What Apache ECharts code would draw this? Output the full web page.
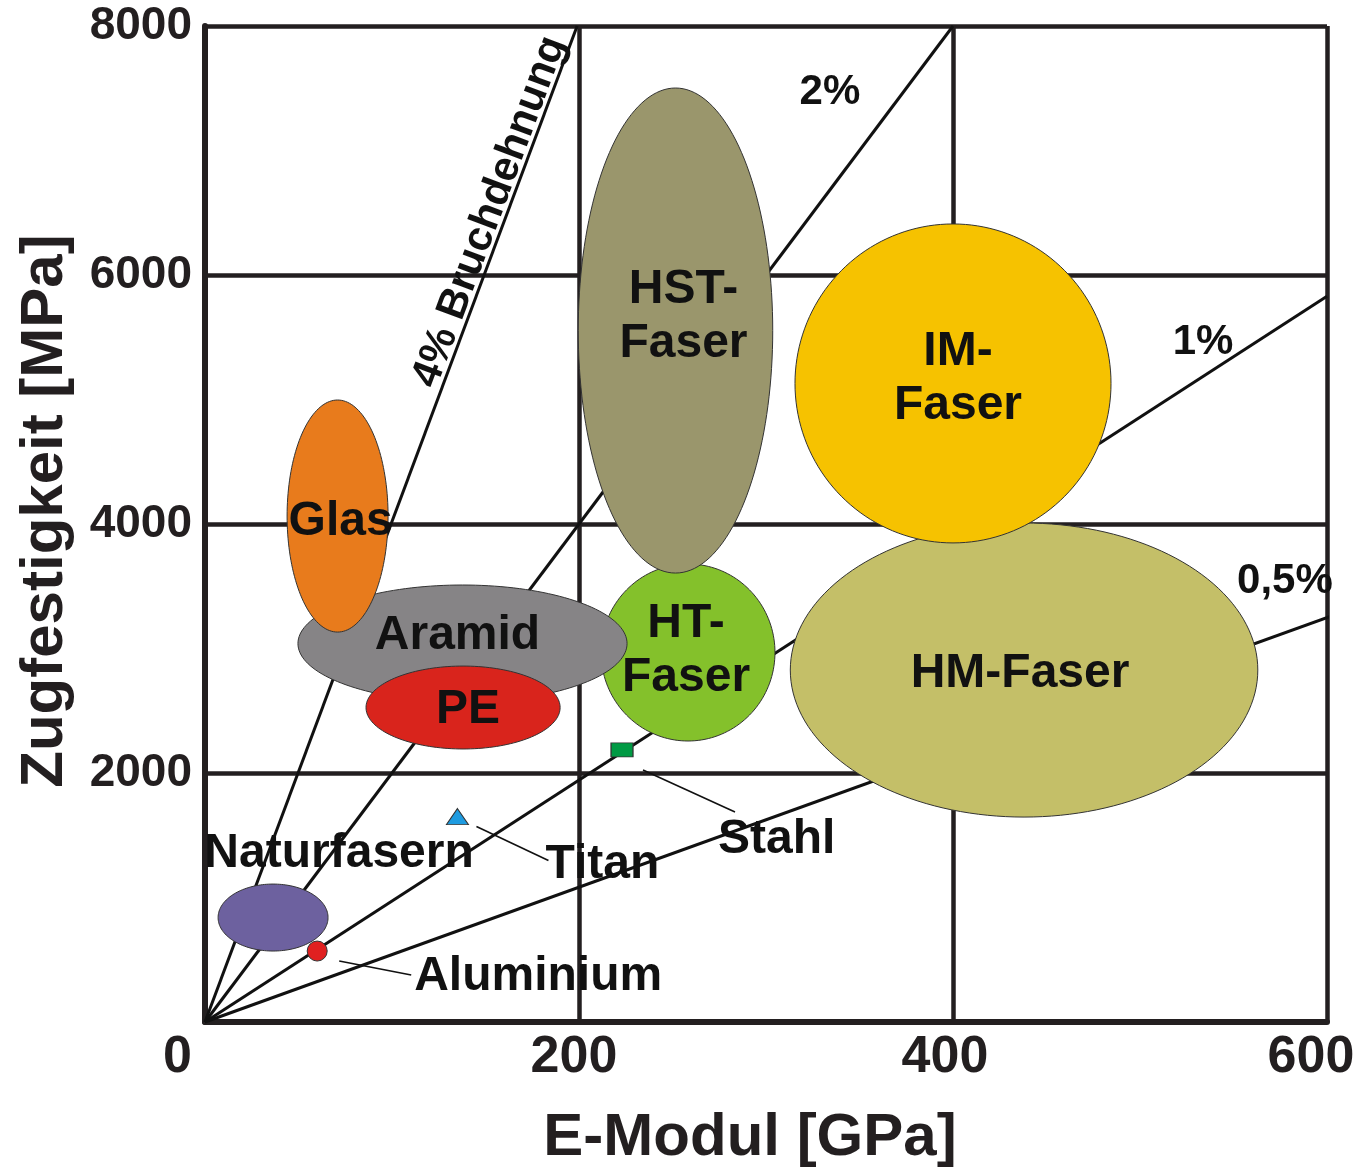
<!DOCTYPE html>
<html><head><meta charset="utf-8">
<script src="https://cdn.jsdelivr.net/npm/echarts@6/dist/echarts.min.js"></script>
<style>html,body{margin:0;padding:0;background:#fff}#c{width:1356px;height:1174px}</style>
</head><body><div id="c"></div>
<script>
// ---------------- data ----------------
const xTicks = [0, 200, 400, 600];            // E-Modul [GPa]
const yTicks = [0, 2000, 4000, 6000, 8000];   // Zugfestigkeit [MPa]

// material fields drawn as ellipses (centre and half range), in drawing order
const materialNames   = ['Naturfasern', 'HT-Faser', 'HM-Faser', 'HST-Faser', 'IM-Faser', 'Aramid', 'Glas', 'PE'];
const materialLabels  = ['Naturfasern', 'HT-\nFaser', 'HM-Faser', 'HST-\nFaser', 'IM-\nFaser', 'Aramid', 'Glas', 'PE'];
const modulusCenter   = [36.4, 258.3, 438, 251.6, 400, 137.7, 70.9, 138];
const strengthCenter  = [839, 2968, 2827, 5554, 5129, 3040, 4064, 2526];
const modulusHalf     = [29.4, 46.5, 125, 52, 84.5, 88, 27, 51.9];
const strengthHalf    = [269, 711, 1181, 1948, 1281, 470, 932, 333];

// single materials drawn as points
const pointNames    = ['Aluminium', 'Titan', 'Stahl'];
const pointModulus  = [60, 135, 223];
const pointStrength = [570, 1650, 2185];

// lines of constant elongation at break, from the origin to their end point
const strainNames       = ['4%', '2%', '1%', '0,5%'];
const strainEndModulus  = [199, 400, 600, 603];
const strainEndStrength = [8000, 8000, 5830, 3265];

// ---------------- styles ----------------
const FONT = '"Liberation Sans", Arial, Helvetica, sans-serif';
const INK = '#111111';
const FRAME = '#231F20';

const ellipseStyle = {
  'Naturfasern': { color: '#6d619f', dx: 66, dy: -64 },
  'HT-Faser':    { color: '#84c12b', dx: -2, dy: -2 },
  'HM-Faser':    { color: '#c4bf68', dx: -4, dy: 4 },
  'HST-Faser':   { color: '#9a966c', dx: 8,  dy: -14 },
  'IM-Faser':    { color: '#f6c200', dx: 5,  dy: -5 },
  'Aramid':      { color: '#868486', dx: -5, dy: -8 },
  'Glas':        { color: '#e87b1c', dx: 3,  dy: 6 },
  'PE':          { color: '#d9241c', dx: 5,  dy: 2 }
};
const pointStyle = {
  'Aluminium': { symbol: 'circle',   size: 20,       color: '#e02020', lead: [22, 10, 94, 24],  text: [97, 26] },
  'Titan':     { symbol: 'triangle', size: [22, 16], color: '#1e9be0', lead: [19, 10, 91, 44],  text: [88, 48] },
  'Stahl':     { symbol: 'rect',     size: [22, 14], color: '#009a44', lead: [21, 20, 113, 62], text: [96, 90] }
};
const strainLabel = {
  '4%':   { text: '4% Bruchdehnung', coord: [152.4, 6506], rotate: 69.5 },
  '2%':   { text: '2%',   coord: [334.2, 7470], rotate: 0 },
  '1%':   { text: '1%',   coord: [533.7, 5460], rotate: 0 },
  '0,5%': { text: '0,5%', coord: [577.5, 3540], rotate: 0 }
};
// horizontal nudge of the x tick labels (right padding in px, shifts text left by half)
const xLabelPad = { 0: 55, 200: 10, 400: 16, 600: 32 };

// ---------------- build series ----------------
const series = [];

strainNames.forEach((n, i) => {
  const lab = strainLabel[n];
  series.push({
    type: 'line', name: n, z: 2, silent: true, clip: false,
    symbol: 'none', animation: false,
    lineStyle: { color: INK, width: 3 },
    data: [[0, 0], [strainEndModulus[i], strainEndStrength[i]]],
    markPoint: {
      silent: true, animation: false,
      symbol: 'circle', symbolSize: 1, itemStyle: { color: 'rgba(0,0,0,0)' },
      data: [{
        coord: lab.coord,
        label: {
          show: true, position: 'inside', formatter: lab.text, rotate: lab.rotate,
          color: INK, fontSize: 42, fontWeight: 'bold', fontFamily: FONT
        }
      }]
    }
  });
});

series.push({
  type: 'custom', name: 'Werkstoffe', z: 3, silent: true, animation: false,
  data: materialNames.map((n, i) => ({
    name: n, value: [modulusCenter[i], strengthCenter[i], modulusHalf[i], strengthHalf[i]]
  })),
  renderItem: (params, api) => {
    const i = params.dataIndex;
    const name = materialNames[i];
    const st = ellipseStyle[name];
    const c = api.coord([api.value(0), api.value(1)]);
    const s = api.size([api.value(2), api.value(3)]);
    const pts = [];
    const N = 160;
    for (let k = 0; k < N; k++) {
      const t = k / N * Math.PI * 2;
      pts.push([c[0] + s[0] * Math.cos(t), c[1] + s[1] * Math.sin(t)]);
    }
    return {
      type: 'group',
      children: [
        { type: 'polygon', z2: i, shape: { points: pts },
          style: { fill: st.color, stroke: '#333333', lineWidth: 1 } },
        { type: 'text', z2: 100, x: c[0] + st.dx, y: c[1] + st.dy,
          style: { text: materialLabels[i], fill: INK, fontSize: 48, fontWeight: 'bold',
                   fontFamily: FONT, align: 'center', verticalAlign: 'middle', lineHeight: 54 } }
      ]
    };
  }
});

series.push({
  type: 'scatter', name: 'Metalle', z: 4, silent: true, animation: false,
  data: pointNames.map((n, i) => ({
    name: n, value: [pointModulus[i], pointStrength[i]],
    symbol: pointStyle[n].symbol, symbolSize: pointStyle[n].size,
    itemStyle: { color: pointStyle[n].color, borderColor: '#333333', borderWidth: 1, opacity: 1 }
  }))
});

series.push({
  type: 'custom', name: 'Beschriftung', z: 5, silent: true, animation: false,
  data: pointNames.map((n, i) => ({ name: n, value: [pointModulus[i], pointStrength[i]] })),
  renderItem: (params, api) => {
    const n = pointNames[params.dataIndex];
    const st = pointStyle[n];
    const c = api.coord([api.value(0), api.value(1)]);
    return {
      type: 'group',
      children: [
        { type: 'line', shape: { x1: c[0] + st.lead[0], y1: c[1] + st.lead[1], x2: c[0] + st.lead[2], y2: c[1] + st.lead[3] },
          style: { stroke: INK, lineWidth: 1.6 } },
        { type: 'text', x: c[0] + st.text[0], y: c[1] + st.text[1],
          style: { text: n, fill: INK, fontSize: 48, fontWeight: 'bold', fontFamily: FONT,
                   align: 'left', verticalAlign: 'middle' } }
      ]
    };
  }
});

const xRich = {};
xTicks.forEach(v => {
  xRich['t' + v] = { fontSize: 52, fontWeight: 'bold', fontFamily: FONT, color: FRAME,
                     padding: [0, xLabelPad[v] || 0, 0, 0] };
});

const chart = echarts.init(document.getElementById('c'), null, { renderer: 'canvas' });
chart.setOption({
  backgroundColor: '#ffffff',
  animation: false,
  grid: { left: 205, right: 29, top: 26, bottom: 152, show: false, containLabel: false, outerBoundsMode: 'none' },
  xAxis: {
    type: 'value', min: xTicks[0], max: xTicks[xTicks.length - 1], interval: xTicks[1] - xTicks[0],
    name: 'E-Modul [GPa]', nameLocation: 'middle', nameGap: 86,
    nameTextStyle: { fontSize: 60, fontWeight: 'bold', fontFamily: FONT, color: FRAME, padding: [0, 32, 0, 0] },
    axisLine: { show: true, lineStyle: { color: FRAME, width: 6 } },
    axisTick: { show: false },
    splitLine: { show: true, lineStyle: { color: FRAME, width: 4.5 } },
    axisLabel: {
      margin: 10, color: FRAME, fontSize: 52, fontWeight: 'bold', fontFamily: FONT,
      hideOverlap: false,
      formatter: v => '{t' + v + '|' + v + '}',
      rich: xRich
    }
  },
  yAxis: {
    type: 'value', min: yTicks[0], max: yTicks[yTicks.length - 1], interval: yTicks[1] - yTicks[0],
    name: 'Zugfestigkeit [MPa]', nameLocation: 'middle', nameGap: 130,
    nameTextStyle: { fontSize: 60, fontWeight: 'bold', fontFamily: FONT, color: FRAME, padding: [0, 0, 0, 26] },
    axisLine: { show: true, lineStyle: { color: FRAME, width: 6 } },
    axisTick: { show: false },
    splitLine: { show: true, lineStyle: { color: FRAME, width: 4.5 } },
    axisLabel: {
      margin: 13, color: FRAME, fontSize: 46, fontWeight: 'bold', fontFamily: FONT,
      formatter: v => v === 0 ? '' : String(v)
    }
  },
  series: series
});
</script>
</body></html>
